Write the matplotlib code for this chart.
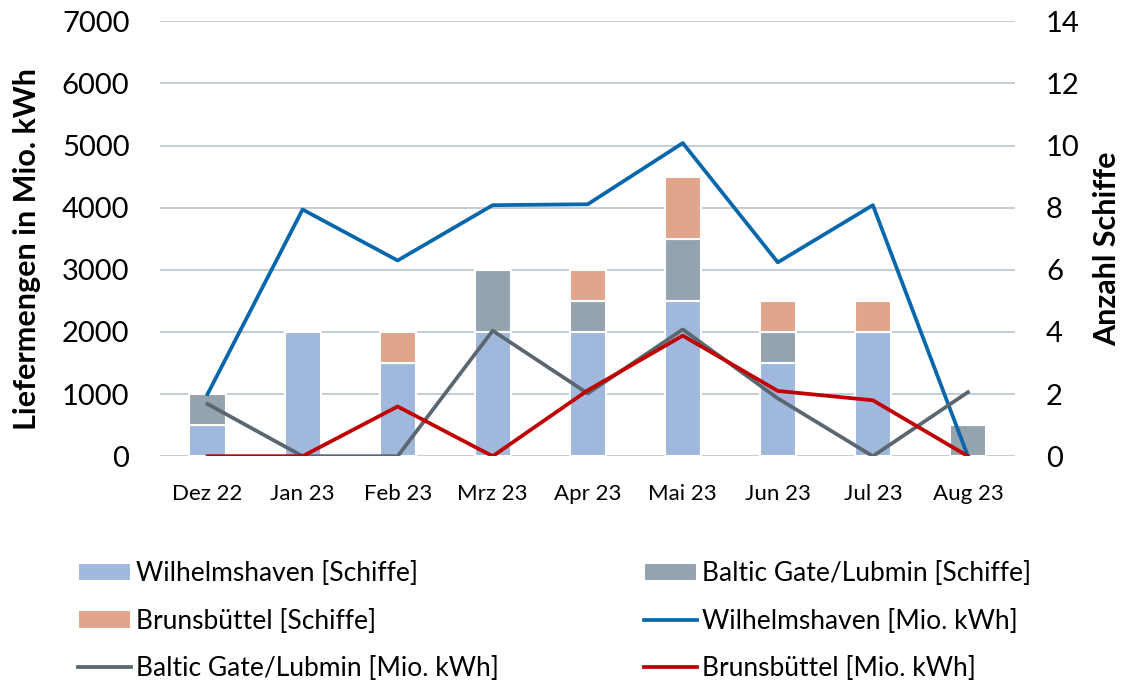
import matplotlib.pyplot as plt
from matplotlib.ticker import MultipleLocator

plt.rcParams['font.family'] = ['Lato', 'DejaVu Sans']

months = ['Dez 22', 'Jan 23', 'Feb 23', 'Mrz 23', 'Apr 23', 'Mai 23', 'Jun 23', 'Jul 23', 'Aug 23']

# ships (right axis, stacked bars)
whv_ships = [1, 4, 3, 4, 4, 5, 3, 4, 0]
baltic_ships = [1, 0, 0, 2, 1, 2, 1, 0, 1]
bruns_ships = [0, 0, 1, 0, 1, 2, 1, 1, 0]

# deliveries in Mio. kWh (left axis, lines)
whv_kwh = [1000, 3970, 3150, 4040, 4055, 5040, 3120, 4040, 0]
baltic_kwh = [840, 0, 0, 2020, 1010, 2040, 930, 0, 1030]
bruns_kwh = [0, 0, 800, 0, 1060, 1940, 1050, 900, 0]

c_whv_bar = '#A0B8DC'
c_bal_bar = '#95A3AE'
c_bru_bar = '#E1A58C'
c_whv_line = '#0767AB'
c_bal_line = '#5A6670'
c_bru_line = '#C00000'

fig = plt.figure(figsize=(11.27, 6.86), dpi=100)
ax = fig.add_axes([0.142, 0.335, 0.759, 0.634])
ax2 = ax.twinx()

x = list(range(len(months)))
bottom2 = [a + b for a, b in zip(whv_ships, baltic_ships)]
b1 = ax.bar(x, whv_ships, 0.38, color=c_whv_bar, edgecolor='white', linewidth=1.5, zorder=2,
            label='Wilhelmshaven [Schiffe]')
b2 = ax.bar(x, baltic_ships, 0.38, bottom=whv_ships, color=c_bal_bar, edgecolor='white',
            linewidth=1.5, zorder=2, label='Baltic Gate/Lubmin [Schiffe]')
b3 = ax.bar(x, bruns_ships, 0.38, bottom=bottom2, color=c_bru_bar, edgecolor='white',
            linewidth=1.5, zorder=2, label='Brunsbüttel [Schiffe]')

l1, = ax2.plot(x, whv_kwh, color=c_whv_line, lw=2.7, label='Wilhelmshaven [Mio. kWh]')
l2, = ax2.plot(x, baltic_kwh, color=c_bal_line, lw=2.7, label='Baltic Gate/Lubmin [Mio. kWh]')
l3, = ax2.plot(x, bruns_kwh, color=c_bru_line, lw=2.7, label='Brunsbüttel [Mio. kWh]')

ax.set_xlim(-0.5, len(months) - 0.5)
ax.set_ylim(0, 14)
ax2.set_ylim(0, 7000)
ax.yaxis.set_major_locator(MultipleLocator(2))
ax2.yaxis.set_major_locator(MultipleLocator(1000))

# ships axis on the right, kWh axis on the left
ax.yaxis.tick_right()
ax.yaxis.set_label_position('right')
ax2.yaxis.tick_left()
ax2.yaxis.set_label_position('left')

ax.grid(axis='y', color='#BFC8D2', lw=1.3, zorder=0)
ax.set_axisbelow(True)
for a in (ax, ax2):
    for s in a.spines.values():
        s.set_visible(False)
    a.tick_params(length=0)
ax.tick_params(axis='y', labelsize=21, pad=22)
ax2.tick_params(axis='y', labelsize=21, pad=22)
ax.set_xticks(x)
ax.set_xticklabels(months, fontsize=16)
ax.tick_params(axis='x', pad=20)

ax2.set_ylabel('Liefermengen in Mio. kWh', fontsize=22, fontweight='bold')
ax.set_ylabel('Anzahl Schiffe', fontsize=22, fontweight='bold')
ax2.yaxis.set_label_coords(-0.156, 0.476)
ax.yaxis.set_label_coords(1.107, 0.476)
ax2.yaxis.label.set_va('center')
ax.yaxis.label.set_va('center')

handles = [b1, b3, l2, b2, l1, l3]
fig.legend(handles=handles, labels=[h.get_label() for h in handles], ncol=2,
           loc='upper left', bbox_to_anchor=(0.06, 0.197), frameon=False,
           fontsize=19, columnspacing=5.5, handlelength=2.0, handletextpad=0.2,
           labelspacing=0.85, borderaxespad=0)

fig.savefig('out.png', dpi=100)
